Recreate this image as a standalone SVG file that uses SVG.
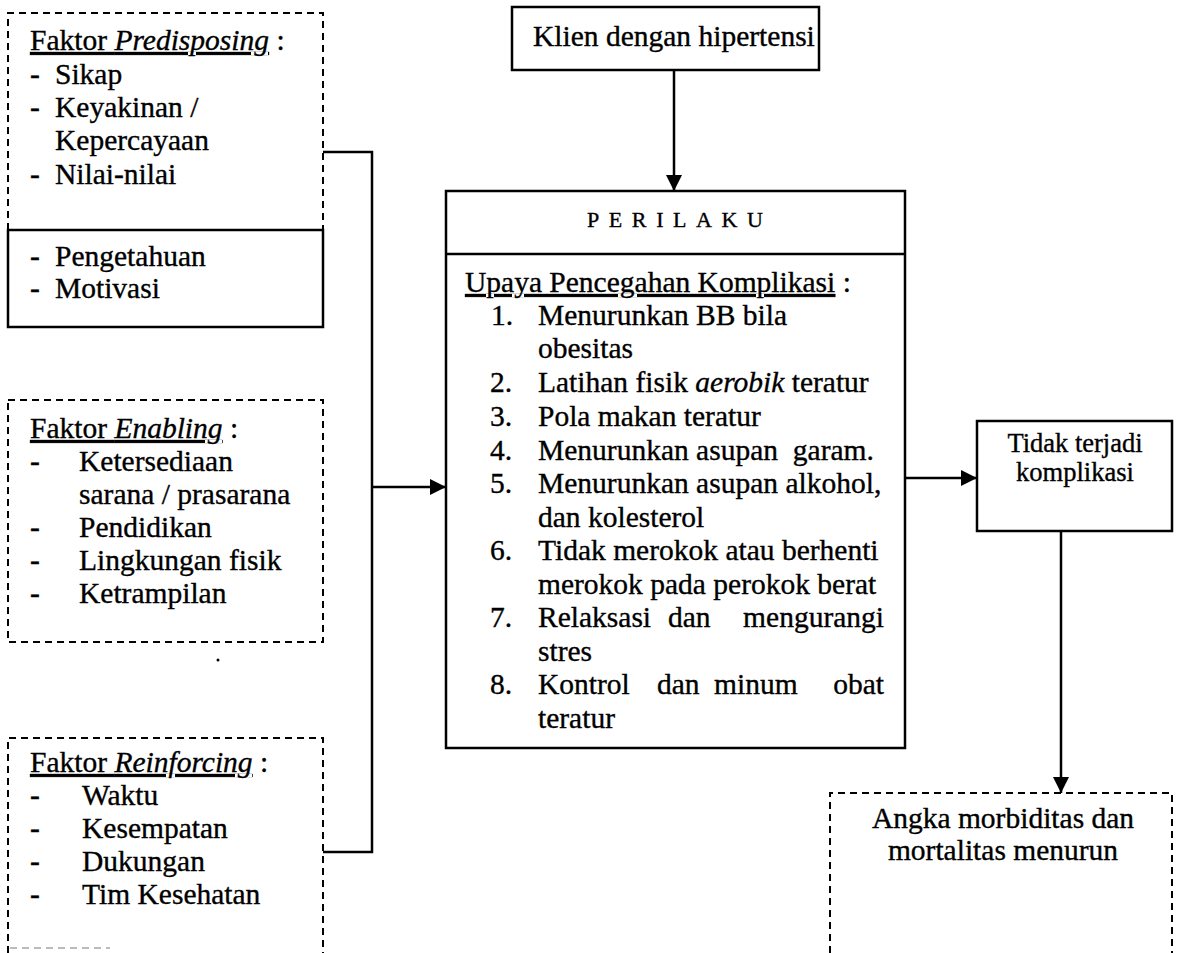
<svg xmlns="http://www.w3.org/2000/svg" width="1179" height="953" viewBox="0 0 1179 953" font-family="'Liberation Serif', 'Times New Roman', Times, serif">
<style>
text{font-family:'Liberation Serif','Times New Roman',Times,serif;font-size:29.5px;fill:#000;stroke:#000;stroke-width:0.35px}
.it{font-style:italic}
.u{text-decoration:underline}
.sm{font-size:26.5px}
.dash{fill:none;stroke:#000;stroke-width:2;stroke-dasharray:7 5}
.solid{fill:none;stroke:#000;stroke-width:2.5}
.conn{fill:none;stroke:#000;stroke-width:2.5}
</style>
<defs>
<marker id="ah" viewBox="0 0 10 10" refX="10" refY="5" markerWidth="16" markerHeight="16" markerUnits="userSpaceOnUse" orient="auto">
<path d="M0,0 L10,5 L0,10 Z" fill="#000"/>
</marker>
</defs>
<rect width="1179" height="953" fill="#fff"/>

<g id="predisposing">
<path class="dash" d="M8,230 V13 H323 V230"/>
<text x="30" y="50"><tspan class="u">Faktor <tspan class="it">Predisposing</tspan></tspan> :</text>
<text x="30" y="84">-</text><text x="55" y="84">Sikap</text>
<text x="30" y="117">-</text><text x="55" y="117">Keyakinan /</text>
<text x="55" y="150">Kepercayaan</text>
<text x="30" y="184">-</text><text x="55" y="184">Nilai-nilai</text>
</g>

<g id="pengetahuan">
<rect class="solid" x="8" y="230" width="315" height="97"/>
<text x="30" y="266">-</text><text x="55" y="266">Pengetahuan</text>
<text x="30" y="298">-</text><text x="55" y="298">Motivasi</text>
</g>

<g id="enabling">
<rect class="dash" x="8" y="400" width="315" height="242"/>
<text x="30" y="438"><tspan class="u">Faktor <tspan class="it">Enabling</tspan></tspan> :</text>
<text x="30" y="471">-</text><text x="79" y="471">Ketersediaan</text>
<text x="79" y="504">sarana / prasarana</text>
<text x="30" y="537">-</text><text x="79" y="537">Pendidikan</text>
<text x="30" y="570">-</text><text x="79" y="570">Lingkungan fisik</text>
<text x="30" y="603">-</text><text x="79" y="603">Ketrampilan</text>
</g>
<circle cx="218" cy="660" r="1.5" fill="#000"/>

<g id="reinforcing">
<path class="dash" d="M8,953 V738 H323 V953"/>
<path d="M10,948 H110" fill="none" stroke="#bbb" stroke-width="2" stroke-dasharray="7 5"/>
<text x="30" y="772"><tspan class="u">Faktor <tspan class="it">Reinforcing</tspan></tspan> :</text>
<text x="30" y="805">-</text><text x="82" y="805">Waktu</text>
<text x="30" y="838">-</text><text x="82" y="838">Kesempatan</text>
<text x="30" y="871">-</text><text x="82" y="871">Dukungan</text>
<text x="30" y="904">-</text><text x="82" y="904">Tim Kesehatan</text>
</g>

<g id="klien">
<rect class="solid" x="512" y="7" width="307" height="63"/>
<text x="533" y="46">Klien dengan hipertensi</text>
</g>

<g id="perilaku">
<rect class="solid" x="446" y="191" width="459" height="557"/>
<line class="solid" x1="446" y1="254" x2="905" y2="254"/>
<text x="587" y="227" style="font-size:22px;letter-spacing:9.6px">PERILAKU</text>
<text x="465" y="292"><tspan class="u">Upaya Pencegahan Komplikasi</tspan> :</text>
<text x="491" y="325">1.</text><text x="538" y="325">Menurunkan BB bila</text>
<text x="538" y="358">obesitas</text>
<text x="490" y="392">2.</text><text x="538" y="392">Latihan fisik <tspan class="it">aerobik</tspan> teratur</text>
<text x="490" y="426">3.</text><text x="538" y="426">Pola makan teratur</text>
<text x="490" y="460">4.</text><text x="538" y="460" xml:space="preserve">Menurunkan asupan  garam.</text>
<text x="490" y="493">5.</text><text x="538" y="493">Menurunkan asupan alkohol,</text>
<text x="538" y="527">dan kolesterol</text>
<text x="490" y="560">6.</text><text x="538" y="560">Tidak merokok atau berhenti</text>
<text x="538" y="594">merokok pada perokok berat</text>
<text x="490" y="627">7.</text><text x="538" y="627">Relaksasi</text><text x="668" y="627">dan</text><text x="884" y="627" text-anchor="end">mengurangi</text>
<text x="538" y="661">stres</text>
<text x="490" y="694">8.</text><text x="538" y="694">Kontrol</text><text x="657" y="694">dan</text><text x="714" y="694">minum</text><text x="884" y="694" text-anchor="end">obat</text>
<text x="538" y="728">teratur</text>
</g>

<g id="tidak">
<rect class="solid" x="977" y="421" width="195" height="110"/>
<text class="sm" x="1075" y="452" text-anchor="middle">Tidak terjadi</text>
<text class="sm" x="1075" y="481" text-anchor="middle">komplikasi</text>
</g>

<g id="angka">
<path class="dash" d="M830,953 V793 H1172 V953"/>
<text x="1003" y="828" text-anchor="middle">Angka morbiditas dan</text>
<text x="1003" y="860" text-anchor="middle">mortalitas menurun</text>
</g>

<g id="connectors">
<path class="conn" d="M323,152 H372 V852 H323"/>
<path class="conn" d="M372,487 H446" marker-end="url(#ah)"/>
<path class="conn" d="M674,70 V191" marker-end="url(#ah)"/>
<path class="conn" d="M905,478 H977" marker-end="url(#ah)"/>
<path class="conn" d="M1061,531 V793" marker-end="url(#ah)"/>
</g>
</svg>
